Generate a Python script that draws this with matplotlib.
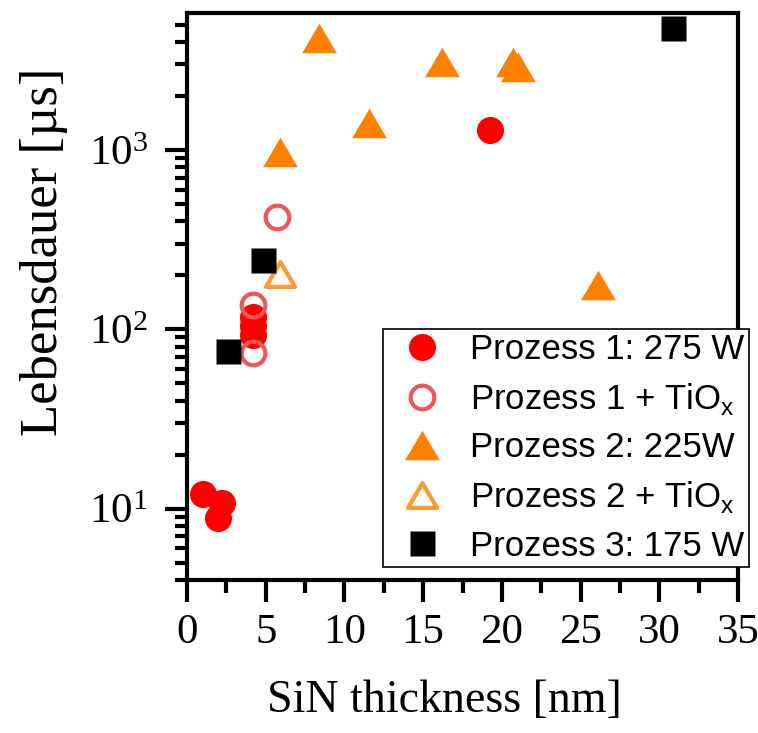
import numpy as np
import matplotlib
matplotlib.use('Agg')
import matplotlib.pyplot as plt
from matplotlib.path import Path
from matplotlib.ticker import LogLocator, MultipleLocator, LogFormatterMathtext, NullFormatter

plt.rcParams['font.family'] = 'Liberation Serif'
plt.rcParams['mathtext.fontset'] = 'custom'
plt.rcParams['mathtext.rm'] = 'Liberation Serif'

# SiN-Dicke [nm] und Lebensdauer [us] je Prozess
p1_x = [1.0, 2.2, 2.0, 4.2, 4.2, 4.2, 19.25]
p1_y = [12.1, 10.8, 8.9, 117, 104, 92.6, 1290]

p1_tio_x = [4.2, 4.2, 5.7]
p1_tio_y = [136, 73.5, 423]

p2_x = [8.4, 16.2, 20.7, 21.0, 11.56, 5.9, 26.1]
p2_y = [4225, 3100, 3100, 2900, 1415, 975, 176]

p2_tio_x = [5.9]
p2_tio_y = [203]

p3_x = [4.8, 2.6, 30.9]
p3_y = [243, 75.4, 4800]

labels = ['Prozess 1: 275 W',
          'Prozess 1 + TiO$_\\mathregular{x}$',
          'Prozess 2: 225W',
          'Prozess 2 + TiO$_\\mathregular{x}$',
          'Prozess 3: 175 W']

# etwas flacheres Dreieck als '^'
tri = Path([(0, 0.85), (-1, -0.85), (1, -0.85), (0, 0.85)], closed=True)

fig = plt.figure(figsize=(7.58, 7.33), dpi=100)
ax = fig.add_axes([187 / 758, 1 - 580 / 733, (738 - 187) / 758, (580 - 13) / 733])

ax.plot(p1_x, p1_y, 'o', ls='none', ms=19.5, color='#ff0000', mec='none', label=labels[0])
ax.plot(p1_tio_x, p1_tio_y, 'o', ls='none', ms=17, mfc='none', mec='#f25555', mew=3, label=labels[1])
ax.plot(p2_x, p2_y, marker=tri, ls='none', ms=25, color='#ff8000', mec='none', label=labels[2])
ax.plot(p2_tio_x, p2_tio_y, marker=tri, ls='none', ms=21, mfc='none', mec='#ff9933', mew=3, label=labels[3])
ax.plot(p3_x, p3_y, 's', ls='none', ms=18, color='black', mec='none', label=labels[4])

ax.set_yscale('log')
ax.set_xlim(0, 35)
ax.set_ylim(4, 5800)

ax.xaxis.set_major_locator(MultipleLocator(5))
ax.xaxis.set_minor_locator(MultipleLocator(2.5))
ax.yaxis.set_major_locator(LogLocator(base=10))
ax.yaxis.set_minor_locator(LogLocator(base=10, subs=np.arange(2, 10)))
ax.yaxis.set_major_formatter(LogFormatterMathtext())
ax.yaxis.set_minor_formatter(NullFormatter())

for s in ax.spines.values():
    s.set_linewidth(3)
ax.tick_params(which='major', direction='out', length=16, width=3, labelsize=31, pad=8)
ax.tick_params(which='minor', direction='out', length=9, width=3)
ax.tick_params(axis='y', which='major', pad=12)

ax.set_xlabel('SiN thickness [nm]', fontsize=33)
ax.set_ylabel('Lebensdauer [µs]', fontsize=38)
ax.xaxis.set_label_coords((444 - 187) / 551, -(679 - 580) / 567)
ax.yaxis.set_label_coords(-(187 - 68) / 551, (580 - 252) / 567)

leg = ax.legend(loc='upper left', bbox_to_anchor=(383 / 758, 1 - 329 / 733),
                bbox_transform=fig.transFigure, borderaxespad=0,
                prop={'family': 'Liberation Sans', 'size': 25},
                fancybox=False, framealpha=1, edgecolor='black',
                handletextpad=0.4, labelspacing=0.42, borderpad=0.12,
                handlelength=2.0, markerscale=1.0)
leg.get_frame().set_linewidth(1.2)

fig.savefig('out.png', dpi=100)
